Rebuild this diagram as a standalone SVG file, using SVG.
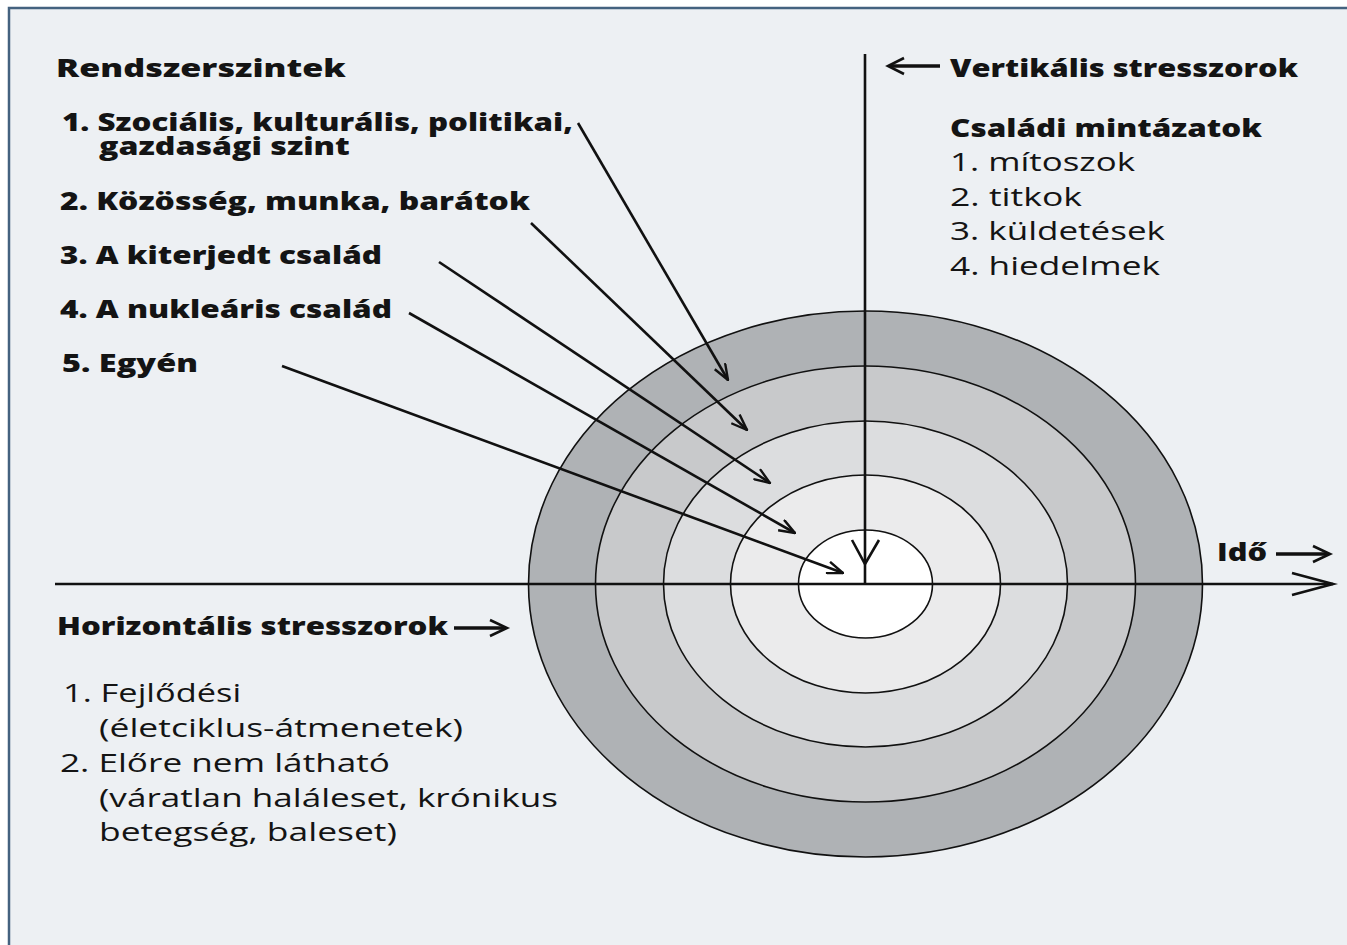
<svg xmlns="http://www.w3.org/2000/svg" width="1347" height="945" viewBox="0 0 1347 945">
<style>
.b{font-family:"Open Sans","Liberation Sans",sans-serif;font-weight:800;font-size:25px;fill:#141414}
.r{font-family:"Open Sans","Liberation Sans",sans-serif;font-weight:400;font-size:25px;fill:#141414}
.ring{stroke:#111;stroke-width:1.6}
.ln{stroke:#111;stroke-width:2.6;fill:none}
.hd{stroke:#111;stroke-width:2.6;fill:none;stroke-linejoin:miter}
.th{stroke:#111;stroke-width:3.6;fill:none}
</style>
<defs>
<marker id="ah" markerUnits="userSpaceOnUse" viewBox="0 0 18 14" refX="17" refY="7" markerWidth="18" markerHeight="14" orient="auto">
<path d="M1,1 L17,7 L1,13" fill="none" stroke="#111" stroke-width="2.4"/>
</marker>
</defs>
<rect width="1347" height="945" fill="#ffffff"/>
<rect id="frame" x="9" y="8" width="1350" height="950" fill="#edf0f3" stroke="#44627f" stroke-width="2.5"/>
<g id="rings">
<ellipse id="ring1" class="ring" cx="865.5" cy="584" rx="337" ry="273" fill="#afb2b5"/>
<ellipse id="ring2" class="ring" cx="865.5" cy="584" rx="270" ry="218" fill="#c8c9cb"/>
<ellipse id="ring3" class="ring" cx="865.5" cy="584" rx="202" ry="163" fill="#dcdddf"/>
<ellipse id="ring4" class="ring" cx="865.5" cy="584" rx="135" ry="109" fill="#ebebec"/>
<ellipse id="ring5" class="ring" cx="865.5" cy="584" rx="67" ry="54" fill="#ffffff"/>
</g>
<g id="connectors">
<line class="ln" x1="55" y1="584" x2="1333" y2="584"/>
<path class="hd" d="M1292,573 L1333,584 L1292,595"/>
<line class="ln" x1="865" y1="54" x2="865" y2="584"/>
<path class="hd" d="M852,540 L865,564 L879,540"/>
<line class="ln" x1="578" y1="123" x2="728" y2="380" marker-end="url(#ah)"/>
<line class="ln" x1="531" y1="223" x2="747" y2="430" marker-end="url(#ah)"/>
<line class="ln" x1="439" y1="262" x2="770" y2="483" marker-end="url(#ah)"/>
<line class="ln" x1="409" y1="313" x2="795" y2="533" marker-end="url(#ah)"/>
<line class="ln" x1="282" y1="366" x2="843" y2="573" marker-end="url(#ah)"/>
<line class="th" x1="889" y1="66" x2="940" y2="66"/>
<path class="hd" d="M904,58 L888,66 L904,74"/>
<line class="th" x1="1276" y1="554" x2="1329" y2="554"/>
<path class="hd" d="M1313,546 L1330,554 L1313,562"/>
<line class="th" x1="454" y1="628" x2="506" y2="628"/>
<path class="hd" d="M490,620 L507,628 L490,636"/>
</g>
<g id="rendszerszintek">
<text class="b" transform="translate(56,77) scale(1.3,1)" textLength="223" lengthAdjust="spacingAndGlyphs">Rendszerszintek</text>
<text class="b" transform="translate(62,131) scale(1.3,1)" textLength="393" lengthAdjust="spacingAndGlyphs">1. Szociális, kulturális, politikai,</text>
<text class="b" transform="translate(99,155) scale(1.3,1)" textLength="193" lengthAdjust="spacingAndGlyphs">gazdasági szint</text>
<text class="b" transform="translate(60,210) scale(1.3,1)" textLength="361.5" lengthAdjust="spacingAndGlyphs">2. Közösség, munka, barátok</text>
<text class="b" transform="translate(60,264) scale(1.3,1)" textLength="247.7" lengthAdjust="spacingAndGlyphs">3. A kiterjedt család</text>
<text class="b" transform="translate(60,318) scale(1.3,1)" textLength="255.4" lengthAdjust="spacingAndGlyphs">4. A nukleáris család</text>
<text class="b" transform="translate(62,372) scale(1.3,1)" textLength="104.6" lengthAdjust="spacingAndGlyphs">5. Egyén</text>
</g>
<g id="vertikalis">
<text class="b" transform="translate(950,77) scale(1.3,1)" textLength="267.7" lengthAdjust="spacingAndGlyphs">Vertikális stresszorok</text>
<text class="b" transform="translate(950,137) scale(1.3,1)" textLength="240" lengthAdjust="spacingAndGlyphs">Családi mintázatok</text>
<text class="r" transform="translate(950,171) scale(1.3,1)" textLength="142.3" lengthAdjust="spacingAndGlyphs">1. mítoszok</text>
<text class="r" transform="translate(950,206) scale(1.3,1)" textLength="101.5" lengthAdjust="spacingAndGlyphs">2. titkok</text>
<text class="r" transform="translate(950,240) scale(1.3,1)" textLength="165.4" lengthAdjust="spacingAndGlyphs">3. küldetések</text>
<text class="r" transform="translate(950,275) scale(1.3,1)" textLength="161.5" lengthAdjust="spacingAndGlyphs">4. hiedelmek</text>
</g>
<g id="ido">
<text class="b" transform="translate(1217,561) scale(1.3,1)" textLength="38.5" lengthAdjust="spacingAndGlyphs">Idő</text>
</g>
<g id="horizontalis">
<text class="b" transform="translate(57,635) scale(1.3,1)" textLength="300.8" lengthAdjust="spacingAndGlyphs">Horizontális stresszorok</text>
<text class="r" transform="translate(63,702) scale(1.3,1)" textLength="137" lengthAdjust="spacingAndGlyphs">1. Fejlődési</text>
<text class="r" transform="translate(99,737) scale(1.3,1)" textLength="280" lengthAdjust="spacingAndGlyphs">(életciklus-átmenetek)</text>
<text class="r" transform="translate(60,772) scale(1.3,1)" textLength="253.8" lengthAdjust="spacingAndGlyphs">2. Előre nem látható</text>
<text class="r" transform="translate(99,807) scale(1.3,1)" textLength="353" lengthAdjust="spacingAndGlyphs">(váratlan haláleset, krónikus</text>
<text class="r" transform="translate(99,841) scale(1.3,1)" textLength="229.2" lengthAdjust="spacingAndGlyphs">betegség, baleset)</text>
</g>
</svg>
